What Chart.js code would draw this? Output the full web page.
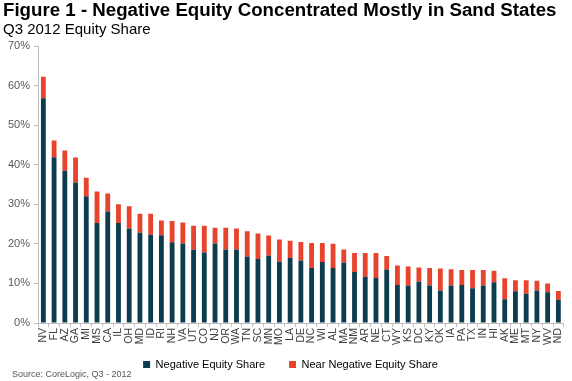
<!DOCTYPE html>
<html>
<head>
<meta charset="utf-8">
<script src="https://cdn.jsdelivr.net/npm/chart.js@4"></script>
<style>
  html, body { margin: 0; padding: 0; background: #fff; }
  #wrap { position: relative; width: 572px; height: 381px; overflow: hidden; font-family: "Liberation Sans", Arial, sans-serif; }
  #title { position: absolute; left: 3px; top: -1px; font-weight: bold; font-size: 18.7px; color: #000; white-space: nowrap; }
  #subtitle { position: absolute; left: 3px; top: 20px; font-size: 15px; color: #000; white-space: nowrap; }
  #source { position: absolute; left: 12px; top: 369px; font-size: 9px; color: #555; white-space: nowrap; }
  canvas { position: absolute; left: 0; top: 0; }
</style>
</head>
<body>
<div id="wrap">
  <canvas id="c" width="572" height="381"></canvas>
  <div id="title">Figure 1 - Negative Equity Concentrated Mostly in Sand States</div>
  <div id="subtitle">Q3 2012 Equity Share</div>
  <div id="source">Source: CoreLogic, Q3 - 2012</div>
</div>
<script>
const states = ["NV","FL","AZ","GA","MI","MS","CA","IL","OH","MD","ID","RI","NH","VA","UT","CO","NJ","OR","WA","TN","SC","MN","MO","LA","DE","NC","WI","AL","MA","NM","AR","NE","CT","WY","KS","DC","KY","OK","IA","PA","TX","IN","HI","AK","ME","MT","NY","WV","ND"];
const negativeShare = [56.8,41.9,38.5,35.5,32.0,25.3,28.2,25.3,23.9,22.8,22.3,22.2,20.4,20.1,18.5,17.8,20.1,18.6,18.6,16.8,16.2,17.0,15.5,16.4,15.8,13.9,15.4,13.9,15.3,12.9,11.7,11.4,13.5,9.6,9.5,10.5,9.5,8.2,9.5,9.6,8.8,9.5,10.3,6.0,8.0,7.4,8.2,7.8,5.9];
const totalShare = [62.2,46.1,43.6,41.8,36.7,33.2,32.7,30.0,29.5,27.6,27.6,25.9,25.8,25.4,24.6,24.6,24.1,24.1,23.9,23.2,22.6,22.1,21.1,20.8,20.5,20.2,20.2,20.0,18.6,17.7,17.7,17.7,16.9,14.5,14.3,14.0,13.9,13.8,13.6,13.4,13.4,13.4,13.2,11.3,10.8,10.8,10.7,10.0,8.1];
const nearNegativeShare = totalShare.map((t, i) => +(t - negativeShare[i]).toFixed(1));
const yTicks = [0,10,20,30,40,50,60,70];

const FONT = "'Liberation Sans', Arial, sans-serif";
const LEGEND_PAD = 24;

// Let the legend sit in the space just under the rotated x labels.
const legendPlacement = {
  id: 'legendPlacement',
  beforeLayout(chart) {
    const lg = chart.legend;
    if (lg && !lg._wrappedFit) {
      const fit = lg.fit;
      lg.fit = function () { fit.call(this); this.height = 23; };
      lg._wrappedFit = true;
    }
  },
  afterLayout(chart) {
    const lg = chart.legend;
    if (lg) { lg.top -= 22; lg.height = lg.bottom - lg.top; lg.left += 6; lg.right += 6; }
  }
};

new Chart(document.getElementById('c'), {
  type: 'bar',
  data: {
    labels: states,
    datasets: [
      { label: 'Negative Equity Share', data: negativeShare, backgroundColor: '#0c3c4e', barPercentage: 0.9, categoryPercentage: 0.5 },
      { label: 'Near Negative Equity Share', data: nearNegativeShare, backgroundColor: '#e8432c', barPercentage: 0.9, categoryPercentage: 0.5 }
    ]
  },
  plugins: [legendPlacement],
  options: {
    responsive: false,
    animation: false,
    layout: { padding: { top: 46, right: 3, left: 0, bottom: 1 } },
    plugins: {
      legend: {
        position: 'bottom',
        labels: { boxWidth: 7, boxHeight: 7, padding: LEGEND_PAD, color: '#000', font: { family: FONT, size: 11 } }
      },
      tooltip: { enabled: false }
    },
    scales: {
      x: {
        stacked: true,
        afterFit: s => { s.height = 34; },
        grid: { display: true, drawOnChartArea: false, drawTicks: true, tickLength: 4, color: '#bfbfbf' },
        border: { color: '#bfbfbf' },
        ticks: { autoSkip: false, maxRotation: 90, minRotation: 90, padding: 1, color: '#404040', font: { family: FONT, size: 10.5 } }
      },
      y: {
        stacked: true,
        min: 0, max: 70,
        afterBuildTicks: s => { s.ticks = yTicks.map(v => ({ value: v })); },
        afterFit: s => { s.width = 38; },
        grid: { display: true, drawOnChartArea: false, drawTicks: true, tickLength: 4, color: '#bfbfbf' },
        border: { color: '#bfbfbf' },
        ticks: { padding: 4, color: '#595959', font: { family: FONT, size: 11 }, callback: v => v + '%' }
      }
    }
  }
});
</script>
</body>
</html>
